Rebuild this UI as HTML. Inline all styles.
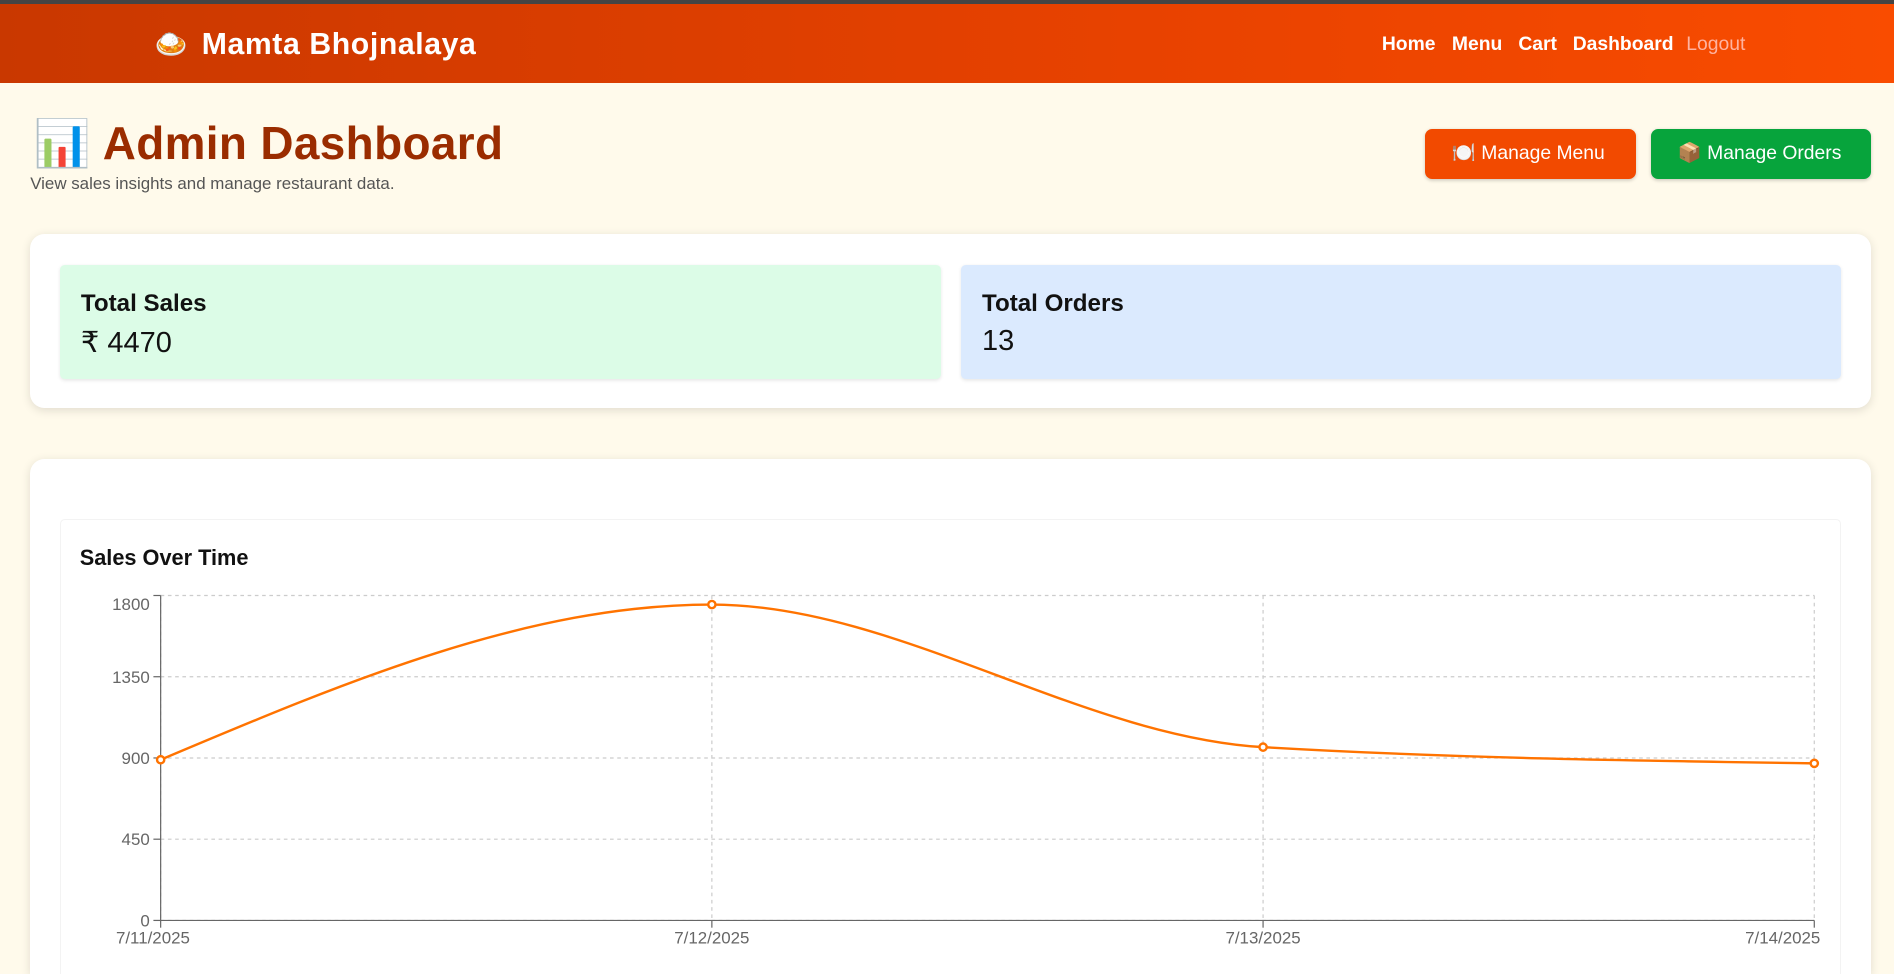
<!DOCTYPE html>
<html style="width:1894px;height:973px;overflow:hidden;"><head><meta charset="utf-8">
<style>
html,body{margin:0;padding:0;}
body{width:1568px;height:806px;overflow:hidden;zoom:1.20791;background:#fffaeb;font-family:"Liberation Sans","Noto Sans CJK JP",sans-serif;position:relative;}
.abs{position:absolute;}
#hdr{left:0;top:0;width:1568px;height:69px;background:linear-gradient(90deg,#c93800,#e84200 60%,#f94c00);border-top:4px solid #444;box-sizing:border-box;}
.nav{top:28px;font-size:16px;font-weight:bold;color:#fff;}
.btn{top:107px;height:41px;border-radius:6px;color:#fff;font-size:16px;line-height:41px;box-sizing:border-box;padding-left:22px;box-shadow:0 1px 3px rgba(0,0,0,.2);}
.card{background:#fff;border-radius:12px;box-shadow:0 2px 8px rgba(0,0,0,.12);}
.stat{border-radius:4px;box-shadow:0 1px 3px rgba(0,0,0,.1);}
.st{font-size:20px;font-weight:bold;position:absolute;left:17px;top:21px;color:#111;}
.sv{font-size:24px;position:absolute;left:17px;top:50px;color:#111;}
</style></head><body>
<div id="hdr" class="abs"></div>
<div class="abs" style="left:128px;top:24px;font-size:22px;">🍛</div>
<div class="abs" style="left:167px;top:23px;font-size:25px;font-weight:900;color:#fff;letter-spacing:0.5px;">Mamta Bhojnalaya</div>
<div class="abs nav" style="left:1144px">Home</div>
<div class="abs nav" style="left:1202px">Menu</div>
<div class="abs nav" style="left:1257px">Cart</div>
<div class="abs nav" style="left:1302px">Dashboard</div>
<div class="abs nav" style="left:1396px;color:#ffb3a0;font-weight:normal">Logout</div>

<div class="abs" style="left:28px;top:96px;font-size:38px;font-weight:bold;color:#9a2c00;letter-spacing:0.3px;">📊 Admin Dashboard</div>
<div class="abs" style="left:25px;top:144px;font-size:14px;color:#555;">View sales insights and manage restaurant data.</div>
<div class="abs btn" style="left:1180px;width:174px;background:#f24a00;">🍽️ Manage Menu</div>
<div class="abs btn" style="left:1367px;width:182px;background:#07a43c;">📦 Manage Orders</div>

<div class="abs card" style="left:25px;top:194px;width:1524px;height:144px;"></div>
<div class="abs stat" style="left:50px;top:219px;width:729px;height:95px;background:#dcfce7;"><div class="st">Total Sales</div><div class="sv">₹ 4470</div></div>
<div class="abs stat" style="left:796px;top:219px;width:728px;height:95px;background:#dbeafe;"><div class="st">Total Orders</div><div class="sv">13</div></div>

<div class="abs card" style="left:25px;top:380px;width:1524px;height:426px;border-radius:12px 12px 0 0;"></div>
<div class="abs" style="left:50px;top:430px;width:1474px;height:376px;border:1px solid #f3f3f3;border-bottom:none;border-radius:4px 4px 0 0;background:#fff;box-sizing:border-box;"></div>
<div class="abs" style="left:66px;top:451px;font-size:18px;font-weight:bold;color:#111;">Sales Over Time</div>
<svg class="abs" style="left:0;top:0" width="1568" height="806" id="chart"></svg>
<script>
const categories=["7/11/2025","7/12/2025","7/13/2025","7/14/2025"];
const salesValues=[890,1750,960,870];
const yTicks=[0,450,900,1350,1800];
const X0=133,X1=1502,Y0=762,Y1=493,YMAX=1800;
const NS="http://www.w3.org/2000/svg";
const svg=document.getElementById('chart');
const xs=i=>X0+(X1-X0)*i/(categories.length-1);
const ys=v=>Y0-(Y0-Y1)*v/YMAX;
function mk(t,a,p){const e=document.createElementNS(NS,t);for(const k in a)e.setAttribute(k,a[k]);(p||svg).appendChild(e);return e;}
yTicks.forEach(t=>{
 const g=mk('line',{x1:X0,x2:X1,y1:ys(t),y2:ys(t),stroke:'#ccc','stroke-dasharray':'3 3'});
 
 
 mk('line',{x1:X0-6,x2:X0,y1:ys(t),y2:ys(t),stroke:'#666'});
 const tx=mk('text',{x:X0-9,y:Math.max(ys(t)+5,Y1+12),'text-anchor':'end','font-size':'14',fill:'#666','font-family':'Liberation Sans, sans-serif'});
 tx.textContent=t;
 
 
});
categories.forEach((c,i)=>{
 const g=mk('line',{x1:xs(i),x2:xs(i),y1:Y1,y2:Y0,stroke:'#ccc','stroke-dasharray':'3 3'});
 
 
 mk('line',{x1:xs(i),x2:xs(i),y1:Y0,y2:Y0+6,stroke:'#666'});
 const tx=mk('text',{x:xs(i),y:Y0+19,'text-anchor':i==0?'start':(i==categories.length-1?'end':'middle'),'font-size':'14',fill:'#666','font-family':'Liberation Sans, sans-serif'});
 if(i==0){tx.setAttribute('x',xs(i)-37);}
 if(i==categories.length-1){tx.setAttribute('x',xs(i)+5);}
 tx.textContent=c;
 
 
});
const ax=mk('line',{x1:X0,x2:X1,y1:Y0,y2:Y0,stroke:'#666'});


const ay=mk('line',{x1:X0,x2:X0,y1:Y1,y2:Y0,stroke:'#666'});


const P=salesValues.map((v,i)=>[xs(i),ys(v)]);
const n=P.length,sl=[],t=[];
for(let i=0;i<n-1;i++)sl.push((P[i+1][1]-P[i][1])/(P[i+1][0]-P[i][0]));
const sign=x=>x<0?-1:1;
for(let i=1;i<n-1;i++){const h0=P[i][0]-P[i-1][0],h1=P[i+1][0]-P[i][0],s0=sl[i-1],s1=sl[i],p=(s0*h1+s1*h0)/(h0+h1);
 t[i]=(sign(s0)+sign(s1))*Math.min(Math.abs(s0),Math.abs(s1),0.5*Math.abs(p))||0;}
t[0]=n>2?(3*sl[0]-t[1])/2:sl[0];t[n-1]=n>2?(3*sl[n-2]-t[n-2])/2:sl[0];
let d='M'+P[0][0]+','+P[0][1];
for(let i=0;i<n-1;i++){const dx=(P[i+1][0]-P[i][0])/3;
 d+=' C'+(P[i][0]+dx)+','+(P[i][1]+dx*t[i])+' '+(P[i+1][0]-dx)+','+(P[i+1][1]-dx*t[i+1])+' '+P[i+1][0]+','+P[i+1][1];}
const ln=mk('path',{d:d,fill:'none',stroke:'#ff7300','stroke-width':2});


P.forEach(p=>{const c=mk('circle',{cx:p[0],cy:p[1],r:3,fill:'#fff',stroke:'#ff7300','stroke-width':2});
 
 });
</script>
</body></html>
